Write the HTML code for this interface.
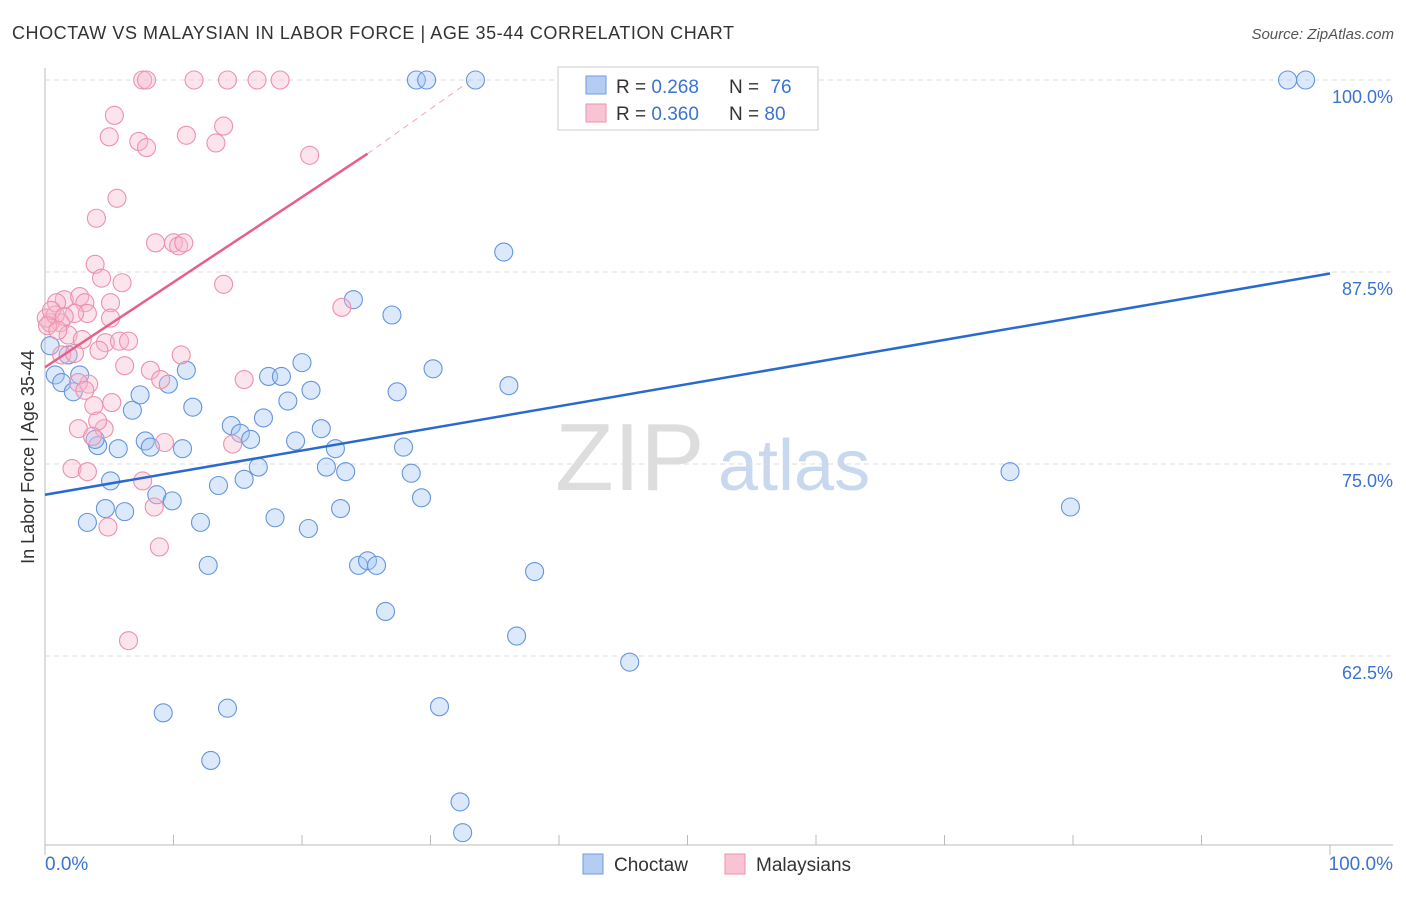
<!DOCTYPE html>
<html><head><meta charset="utf-8"><style>
body{margin:0;background:#fff;font-family:"Liberation Sans",sans-serif}
svg text{font-family:"Liberation Sans",sans-serif}
</style></head><body>
<svg id="c" width="1406" height="892" xmlns="http://www.w3.org/2000/svg">
<text x="12" y="39" font-size="18" fill="#333" letter-spacing="0.55">CHOCTAW VS MALAYSIAN IN LABOR FORCE | AGE 35-44 CORRELATION CHART</text>
<text x="1394" y="39" font-size="15" fill="#555" text-anchor="end" font-style="italic">Source: ZipAtlas.com</text>
<text x="34" y="457" font-size="18" fill="#333" text-anchor="middle" transform="rotate(-90 34 457)">In Labor Force | Age 35-44</text>
<text x="555" y="490" font-size="96" fill="#ddd" font-family="Liberation Serif">ZIP</text>
<text x="718" y="490" font-size="72" fill="#c8d8ee">atlas</text>
<g id="grid"></g><g id="pts"></g><g id="lines"></g>
<g>
<rect x="558" y="67" width="260" height="63" fill="#fff" stroke="#ccc"/>
<rect x="586" y="76" width="20" height="18" fill="#b5cdf2" stroke="#6f9be0"/>
<rect x="586" y="104" width="20" height="18" fill="#f8c4d3" stroke="#ee92ad"/>
<text x="616" y="93" font-size="19" fill="#333">R = <tspan fill="#3b73d0">0.268</tspan></text>
<text x="729" y="93" font-size="19" fill="#333">N = <tspan dx="6" fill="#3b73d0">76</tspan></text>
<text x="616" y="120" font-size="19" fill="#333">R = <tspan fill="#3b73d0">0.360</tspan></text>
<text x="729" y="120" font-size="19" fill="#333">N = <tspan fill="#3b73d0">80</tspan></text>
</g>
<g>
<rect x="583" y="854" width="20" height="20" fill="#b5cdf2" stroke="#6f9be0"/>
<text x="614" y="871" font-size="19" fill="#333">Choctaw</text>
<rect x="725" y="854" width="20" height="20" fill="#f8c4d3" stroke="#ee92ad"/>
<text x="756" y="871" font-size="19" fill="#333">Malaysians</text>
</g>
<text x="45" y="870" font-size="19" fill="#3b73d0">0.0%</text>
<text x="1393" y="870" font-size="19" fill="#3b73d0" text-anchor="end">100.0%</text>
</svg>
<script>
const yTicks=[100,87.5,75,62.5];
const yTickLabels=["100.0%","87.5%","75.0%","62.5%"];
const blueX=[0.8,1.3,2.2,2.7,1.8,4.1,3.9,5.7,5.1,4.7,6.2,3.3,6.8,7.4,7.8,8.2,8.7,9.9,9.6,11.0,11.5,10.7,12.1,12.7,13.5,14.5,15.2,16.0,15.5,16.6,17.0,17.4,18.4,18.9,19.5,20.0,20.7,21.5,21.9,22.6,23.0,23.4,24.0,24.4,25.1,25.8,26.5,27.0,27.4,27.9,28.5,29.3,30.2,30.7,32.3,32.5,28.9,29.7,33.5,35.7,36.1,36.7,38.1,45.5,75.1,79.8,96.7,98.1,9.2,14.2,12.9,17.9,20.5,0.4,43.4,48.9];
const blueY=[80.8,80.3,79.7,80.8,82.1,76.2,76.6,76.0,73.9,72.1,71.9,71.2,78.5,79.5,76.5,76.1,73.0,72.6,80.2,81.1,78.7,76.0,71.2,68.4,73.6,77.5,77.0,76.6,74.0,74.8,78.0,80.7,80.7,79.1,76.5,81.6,79.8,77.3,74.8,76.0,72.1,74.5,85.7,68.4,68.7,68.4,65.4,84.7,79.7,76.1,74.4,72.8,81.2,59.2,53.0,51.0,100,100,100,88.8,80.1,63.8,68.0,62.1,74.5,72.2,100,100,58.8,59.1,55.7,71.5,70.8,82.7,100,100];
const pinkX=[7.6,7.9,11.6,14.2,16.5,18.3,5.4,5.0,7.3,7.9,11.0,13.3,13.9,20.6,5.6,4.0,8.6,10.0,10.4,10.8,3.9,4.4,6.0,13.9,5.1,23.1,1.5,0.9,2.7,3.1,3.3,5.1,2.3,1.2,0.4,0.1,0.8,1.8,2.9,4.7,5.8,6.5,1.3,2.3,10.6,6.2,8.2,3.4,2.6,3.1,15.5,5.2,3.8,9.0,2.6,4.6,4.1,9.3,14.6,2.1,3.3,4.9,7.6,8.5,8.9,6.5,0.5,1.5,4.2,3.7,0.2,1.0];
const pinkY=[100,100,100,100,100,100,97.7,96.3,96.0,95.6,96.4,95.9,97.0,95.1,92.3,91.0,89.4,89.4,89.2,89.4,88.0,87.1,86.8,86.7,85.5,85.2,85.7,85.5,85.9,85.5,84.8,84.5,84.8,84.2,84.2,84.5,84.7,83.4,83.1,82.9,83.0,83.0,82.1,82.2,82.1,81.4,81.1,80.2,80.3,79.8,80.5,79.0,78.8,80.5,77.3,77.3,77.8,76.4,76.3,74.7,74.5,70.9,73.9,72.2,69.6,63.5,85.0,84.6,82.4,76.8,84.0,83.7];
const blueTrend=[[0,73.0],[100,87.4]];
const pinkTrend=[[0,81.3],[25.1,95.2]];
const pinkDash=[[25.1,95.2],[33.0,99.9]];
const NS="http://www.w3.org/2000/svg";
const sx=v=>45+v*12.85, sy=v=>80+(100-v)*15.36;
function mk(t,a,p){const e=document.createElementNS(NS,t);for(const k in a)e.setAttribute(k,a[k]);p.appendChild(e);return e;}
const grid=document.getElementById('grid');
mk('line',{x1:45,y1:68,x2:45,y2:845,stroke:'#bbb'},grid);
mk('line',{x1:45,y1:845,x2:1393,y2:845,stroke:'#bbb'},grid);
for(let i=0;i<=10;i++){const l=mk('line',{x1:sx(i*10),y1:845,x2:sx(i*10),y2:i==0||i==10?855:835,stroke:'#bbb'},grid);}
yTicks.forEach((t,i)=>{const l=mk('line',{x1:45,y1:sy(t),x2:1393,y2:sy(t),stroke:'#ddd','stroke-dasharray':'5,4'},grid);
const tx=mk('text',{x:1393,y:sy(t)+23,'font-size':18,fill:'#3b73d0','text-anchor':'end'},grid);tx.textContent=yTickLabels[i];});
const pts=document.getElementById('pts');
blueX.forEach((x,i)=>{const c=mk('circle',{cx:sx(x),cy:sy(blueY[i]),r:9,fill:'rgba(160,196,242,0.38)',stroke:'#6595dd','stroke-width':1.1},pts);});
pinkX.forEach((x,i)=>{const c=mk('circle',{cx:sx(x),cy:sy(pinkY[i]),r:9,fill:'rgba(248,184,204,0.38)',stroke:'#ee90ad','stroke-width':1.1},pts);});
const L=document.getElementById('lines');
let a=mk('line',{x1:sx(blueTrend[0][0]),y1:sy(blueTrend[0][1]),x2:sx(blueTrend[1][0]),y2:sy(blueTrend[1][1]),stroke:'#2a6ad0','stroke-width':2.5},L);

a=mk('line',{x1:sx(pinkTrend[0][0]),y1:sy(pinkTrend[0][1]),x2:sx(pinkTrend[1][0]),y2:sy(pinkTrend[1][1]),stroke:'#e8608a','stroke-width':2.5},L);

a=mk('line',{x1:sx(pinkDash[0][0]),y1:sy(pinkDash[0][1]),x2:sx(pinkDash[1][0]),y2:sy(pinkDash[1][1]),stroke:'#f0a0b8','stroke-width':1,'stroke-dasharray':'6,5'},L);

</script>
</body></html>
